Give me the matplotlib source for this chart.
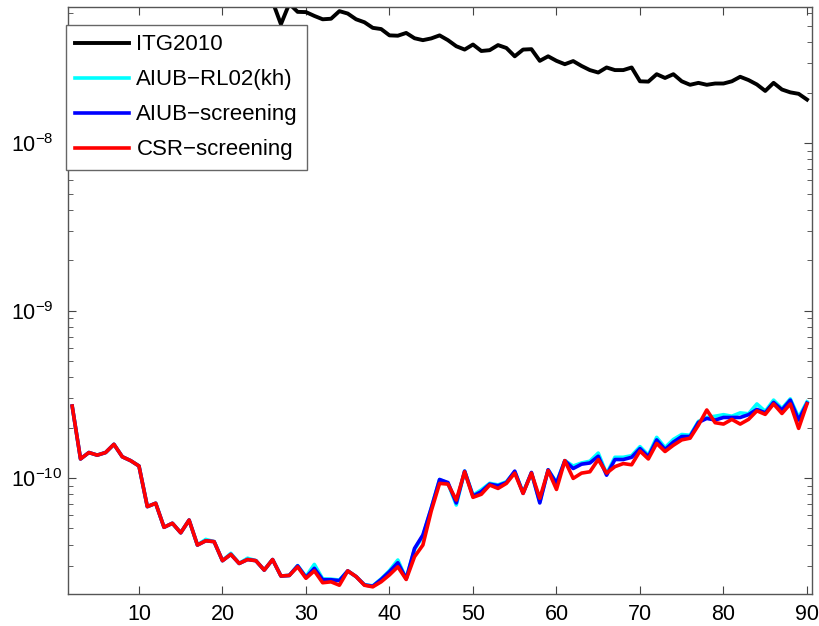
import numpy as np
import matplotlib
matplotlib.use("Agg")
import matplotlib.pyplot as plt
from matplotlib.ticker import FixedLocator, LogLocator, NullFormatter

# === FONT SETUP ===
plt.rcParams['font.family'] = ['Liberation Sans', 'DejaVu Sans']
plt.rcParams['mathtext.fontset'] = 'custom'
plt.rcParams['mathtext.rm'] = 'Liberation Sans'
plt.rcParams['mathtext.it'] = 'Liberation Sans:italic'
plt.rcParams['mathtext.bf'] = 'Liberation Sans:bold'

# === DATA: degree amplitudes per degree n ===
degrees = np.arange(2, 91)
itg_degrees = np.arange(26, 91)

itg2010 = [
    7.0e-8, 5.13e-8, 6.8e-8, 6.08e-8, 6.06e-8, 5.75e-8, 5.49e-8, 5.53e-8, 6.14e-8, 5.94e-8,
    5.49e-8, 5.27e-8, 4.88e-8, 4.80e-8, 4.40e-8, 4.38e-8, 4.55e-8, 4.23e-8, 4.12e-8, 4.22e-8,
    4.40e-8, 4.12e-8, 3.79e-8, 3.62e-8, 3.88e-8, 3.55e-8, 3.59e-8, 3.85e-8, 3.70e-8, 3.30e-8,
    3.62e-8, 3.64e-8, 3.10e-8, 3.30e-8, 3.10e-8, 2.96e-8, 3.09e-8, 2.89e-8, 2.73e-8, 2.64e-8,
    2.83e-8, 2.73e-8, 2.73e-8, 2.83e-8, 2.34e-8, 2.33e-8, 2.58e-8, 2.45e-8, 2.58e-8, 2.34e-8,
    2.23e-8, 2.29e-8, 2.23e-8, 2.27e-8, 2.27e-8, 2.34e-8, 2.49e-8, 2.38e-8, 2.24e-8, 2.05e-8,
    2.29e-8, 2.09e-8, 2.01e-8, 1.97e-8, 1.82e-8,
]

# shared part for degrees 2..28 (curves overlap there)
low_common = [
    2.69e-10, 1.30e-10, 1.42e-10, 1.37e-10, 1.42e-10, 1.59e-10, 1.34e-10, 1.27e-10, 1.18e-10,
    6.75e-11, 7.07e-11, 5.08e-11, 5.37e-11, 4.71e-11, 5.61e-11, 3.98e-11, 4.22e-11, 4.17e-11,
    3.21e-11, 3.50e-11, 3.09e-11, 3.26e-11, 3.21e-11, 2.82e-11, 3.26e-11, 2.60e-11, 2.62e-11,
]

csr_screening = low_common + [
    2.95e-11, 2.52e-11, 2.79e-11, 2.37e-11, 2.40e-11, 2.29e-11, 2.79e-11, 2.58e-11, 2.29e-11,
    2.24e-11, 2.40e-11, 2.64e-11, 2.95e-11, 2.48e-11, 3.39e-11, 3.98e-11, 6.35e-11, 9.29e-11,
    9.20e-11, 7.39e-11, 1.09e-10, 7.67e-11, 8.00e-11, 9.08e-11, 8.67e-11, 9.29e-11, 1.07e-10,
    8.10e-11, 1.07e-10, 7.57e-11, 1.11e-10, 8.55e-11, 1.27e-10, 9.95e-11, 1.07e-10, 1.09e-10,
    1.29e-10, 1.07e-10, 1.17e-10, 1.22e-10, 1.20e-10, 1.45e-10, 1.30e-10, 1.61e-10, 1.44e-10,
    1.57e-10, 1.69e-10, 1.73e-10, 2.07e-10, 2.55e-10, 2.14e-10, 2.10e-10, 2.24e-10, 2.10e-10,
    2.24e-10, 2.52e-10, 2.40e-10, 2.77e-10, 2.43e-10, 2.77e-10, 1.98e-10, 2.77e-10,
]

aiub_screening = low_common + [
    2.99e-11, 2.55e-11, 2.89e-11, 2.47e-11, 2.47e-11, 2.44e-11, 2.79e-11, 2.58e-11, 2.30e-11,
    2.26e-11, 2.48e-11, 2.76e-11, 3.12e-11, 2.50e-11, 3.80e-11, 4.57e-11, 6.60e-11, 9.80e-11,
    9.40e-11, 7.10e-11, 1.10e-10, 7.80e-11, 8.30e-11, 9.20e-11, 9.00e-11, 9.40e-11, 1.10e-10,
    8.10e-11, 1.08e-10, 7.10e-11, 1.12e-10, 9.30e-11, 1.27e-10, 1.14e-10, 1.21e-10, 1.23e-10,
    1.35e-10, 1.04e-10, 1.29e-10, 1.29e-10, 1.33e-10, 1.50e-10, 1.34e-10, 1.69e-10, 1.48e-10,
    1.64e-10, 1.77e-10, 1.77e-10, 2.15e-10, 2.27e-10, 2.22e-10, 2.30e-10, 2.30e-10, 2.30e-10,
    2.39e-10, 2.57e-10, 2.45e-10, 2.83e-10, 2.55e-10, 2.92e-10, 2.22e-10, 2.80e-10,
]

aiub_rl02 = low_common[:16] + [4.30e-11, 4.17e-11, 3.21e-11, 3.55e-11, 3.09e-11, 3.32e-11,
                               3.21e-11, 2.82e-11, 3.26e-11, 2.60e-11, 2.62e-11] + [
    3.00e-11, 2.58e-11, 3.05e-11, 2.50e-11, 2.49e-11, 2.46e-11, 2.79e-11, 2.58e-11, 2.31e-11,
    2.27e-11, 2.50e-11, 2.80e-11, 3.24e-11, 2.50e-11, 3.75e-11, 4.50e-11, 6.60e-11, 9.80e-11,
    9.30e-11, 6.90e-11, 1.10e-10, 7.90e-11, 8.50e-11, 9.30e-11, 9.10e-11, 9.50e-11, 1.09e-10,
    8.20e-11, 1.07e-10, 7.20e-11, 1.12e-10, 9.40e-11, 1.27e-10, 1.18e-10, 1.23e-10, 1.26e-10,
    1.41e-10, 1.06e-10, 1.33e-10, 1.33e-10, 1.36e-10, 1.54e-10, 1.37e-10, 1.75e-10, 1.52e-10,
    1.70e-10, 1.82e-10, 1.80e-10, 2.18e-10, 2.30e-10, 2.34e-10, 2.39e-10, 2.34e-10, 2.45e-10,
    2.42e-10, 2.77e-10, 2.50e-10, 2.92e-10, 2.60e-10, 2.97e-10, 2.30e-10, 2.85e-10,
]

labels = ["ITG2010", "AIUB\u2212RL02(kh)", "AIUB\u2212screening", "CSR\u2212screening"]
colors = ["black", "cyan", "blue", "red"]
y_major = [1e-10, 1e-9, 1e-8]

# === PLOT ===
fig = plt.figure(figsize=(8.19, 6.26), dpi=100)
ax = fig.add_axes([68 / 819, 32 / 626, 744 / 819, 587 / 626])

ax.semilogy(itg_degrees, itg2010, color=colors[0], lw=2.8, label=labels[0])
ax.semilogy(degrees, aiub_rl02, color=colors[1], lw=2.6, label=labels[1])
ax.semilogy(degrees, aiub_screening, color=colors[2], lw=2.6, label=labels[2])
ax.semilogy(degrees, csr_screening, color=colors[3], lw=2.6, label=labels[3])

ax.set_xlim(1.5, 90.6)
ax.set_ylim(2.03e-11, 6.5e-8)
ax.set_xticks(np.arange(10, 91, 10))
ax.yaxis.set_major_locator(FixedLocator(y_major))
ax.yaxis.set_minor_locator(LogLocator(base=10, subs=np.arange(2, 10), numticks=10))
ax.yaxis.set_minor_formatter(NullFormatter())

ax.tick_params(which='both', direction='in', top=True, right=True, labelsize=15.5,
               color='#444444')
ax.tick_params(which='major', length=6)
ax.tick_params(which='minor', length=3.5)
ax.tick_params(axis='x', pad=7)
# y labels left-aligned, starting near the figure edge
ax.tick_params(axis='y', pad=41)
for lab in ax.get_yticklabels():
    lab.set_horizontalalignment('left')
for s in ax.spines.values():
    s.set_color('#555555')
    s.set_linewidth(1.0)

leg = ax.legend(loc='upper left', bbox_to_anchor=(66 / 819, 1 - 25 / 626),
                bbox_transform=fig.transFigure, fontsize=16, fancybox=False,
                handlelength=2.4, labelspacing=0.63, borderpad=0.42,
                handletextpad=0.35, borderaxespad=0)
leg.get_frame().set_edgecolor('#666666')
leg.get_frame().set_linewidth(1.0)
leg.get_frame().set_alpha(1)

fig.savefig("out.png", dpi=100)
